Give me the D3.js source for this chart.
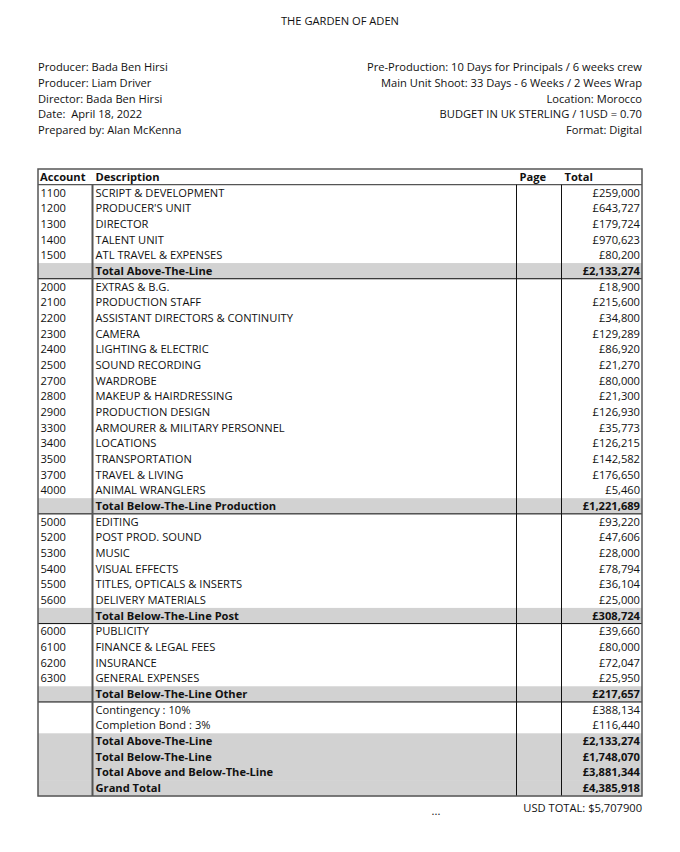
<!DOCTYPE html>
<html><head><meta charset="utf-8">
<script src="https://cdn.jsdelivr.net/npm/d3@7"></script>
<style>
html,body{margin:0;padding:0;background:#fff;}
svg{display:block;font-family:"Open Sans","Noto Sans",sans-serif;}
text{white-space:pre;}
</style></head>
<body><svg id="chart" width="680" height="852"></svg>
<script>
// ---------- data ----------
const title = "THE GARDEN OF ADEN";
const leftInfo = ["Producer: Bada Ben Hirsi","Producer: Liam Driver","Director: Bada Ben Hirsi","Date:  April 18, 2022","Prepared by: Alan McKenna"];
const rightInfo = ["Pre-Production: 10 Days for Principals / 6 weeks crew","Main Unit Shoot: 33 Days - 6 Weeks / 2 Wees Wrap","Location: Morocco","BUDGET IN UK STERLING / 1USD = 0.70","Format: Digital"];
const headers = ["Account","Description","Page","Total"];
const accounts = ["1100","1200","1300","1400","1500","",
  "2000","2100","2200","2300","2400","2500","2700","2800","2900","3300","3400","3500","3700","4000","",
  "5000","5200","5300","5400","5500","5600","",
  "6000","6100","6200","6300","",
  "","","","","",""];
const descriptions = ["SCRIPT & DEVELOPMENT","PRODUCER'S UNIT","DIRECTOR","TALENT UNIT","ATL TRAVEL & EXPENSES","Total Above-The-Line",
  "EXTRAS & B.G.","PRODUCTION STAFF","ASSISTANT DIRECTORS & CONTINUITY","CAMERA","LIGHTING & ELECTRIC","SOUND RECORDING","WARDROBE","MAKEUP & HAIRDRESSING","PRODUCTION DESIGN","ARMOURER & MILITARY PERSONNEL","LOCATIONS","TRANSPORTATION","TRAVEL & LIVING","ANIMAL WRANGLERS","Total Below-The-Line Production",
  "EDITING","POST PROD. SOUND","MUSIC","VISUAL EFFECTS","TITLES, OPTICALS & INSERTS","DELIVERY MATERIALS","Total Below-The-Line Post",
  "PUBLICITY","FINANCE & LEGAL FEES","INSURANCE","GENERAL EXPENSES","Total Below-The-Line Other",
  "Contingency : 10%","Completion Bond : 3%","Total Above-The-Line","Total Below-The-Line","Total Above and Below-The-Line","Grand Total"];
const totals = [259000,643727,179724,970623,80200,2133274,
  18900,215600,34800,129289,86920,21270,80000,21300,126930,35773,126215,142582,176650,5460,1221689,
  93220,47606,28000,78794,36104,25000,308724,
  39660,80000,72047,25950,217657,
  388134,116440,2133274,1748070,3881344,4385918];
// row kinds: i = item, t = section total, p = plain extra, g = grand total block
const kinds = ["i","i","i","i","i","t",
  "i","i","i","i","i","i","i","i","i","i","i","i","i","i","t",
  "i","i","i","i","i","i","t",
  "i","i","i","i","t",
  "p","p","g","g","g","g"];
const footerDots = "...";
const usdTotal = "USD TOTAL: $5,707900";

// ---------- layout ----------
const svg = d3.select("#chart");
const L = 38, R = 642, tableTop = 169, tableBottom = 796;
const colX = d3.scaleOrdinal().domain(headers).range([38, 92.5, 516.5, 561.5]);
const nRows = descriptions.length + 1;
const y = d3.scaleBand().domain(d3.range(nRows)).range([tableTop, tableBottom]).padding(0);
const fmt = v => "£" + d3.format(",")(v);
const fs = 11.15;

svg.append("text").attr("x", 340).attr("y", 25).attr("text-anchor","middle")
  .attr("font-size", fs).attr("fill","#111").text(title);

const infoY = d3.scaleLinear().domain([0,1]).range([71, 86.8]);
svg.append("g").selectAll("text").data(leftInfo).join("text")
  .attr("x", L).attr("y",(d,i)=>infoY(i)).attr("font-size",fs).attr("fill","#111").text(d=>d);
svg.append("g").selectAll("text").data(rightInfo).join("text")
  .attr("x", R).attr("y",(d,i)=>infoY(i)).attr("text-anchor","end").attr("font-size",fs).attr("fill","#111").text(d=>d);

// row backgrounds
const rows = descriptions.map((d,i)=>({acc:accounts[i], desc:d, total:totals[i], kind:kinds[i], idx:i+1}));
svg.append("g").selectAll("rect").data(rows.filter(r=>r.kind==="t"||r.kind==="g")).join("rect")
  .attr("x", L).attr("width", R-L).attr("y", r=>y(r.idx)).attr("height", y.bandwidth()+0.5)
  .attr("fill","#d2d2d2");

// horizontal lines: header bottom + below each section total
const hl = svg.append("g");
hl.append("line").attr("x1",L).attr("x2",R).attr("y1",y(1)).attr("y2",y(1)).attr("stroke","#555").attr("stroke-width",1.2);
rows.filter(r=>r.kind==="t").forEach(r=>{
  const yy = y(r.idx)+y.bandwidth();
  hl.append("line").attr("x1",L).attr("x2",R).attr("y1",yy).attr("y2",yy).attr("stroke","#111").attr("stroke-width",1);
});

// vertical lines
const vl = svg.append("g");
vl.append("line").attr("x1",colX("Description")).attr("x2",colX("Description")).attr("y1",y(1)).attr("y2",tableBottom)
  .attr("stroke","#555").attr("stroke-width",2);
["Page","Total"].forEach(h=>{
  vl.append("line").attr("x1",colX(h)).attr("x2",colX(h)).attr("y1",y(1)).attr("y2",tableBottom)
    .attr("stroke","#111").attr("stroke-width",1);
});
// outer border
svg.append("rect").attr("x",L).attr("y",tableTop).attr("width",R-L).attr("height",tableBottom-tableTop)
  .attr("fill","none").attr("stroke","#555").attr("stroke-width",1.5);

// header
const ty = i => y(i) + y.bandwidth()/2 + 4;
svg.append("g").selectAll("text").data(headers).join("text")
  .attr("x", h=>colX(h)+ (h==="Account"?2:3)).attr("y", ty(0))
  .attr("font-size",fs).attr("font-weight","bold").attr("fill","#111").text(h=>h);

// body text
const body = svg.append("g");
body.selectAll("text.acc").data(rows).join("text").attr("class","acc")
  .attr("x", colX("Account")+2.5).attr("y", r=>ty(r.idx)).attr("font-size",fs).attr("fill","#111").text(r=>r.acc);
body.selectAll("text.desc").data(rows).join("text").attr("class","desc")
  .attr("x", colX("Description")+3).attr("y", r=>ty(r.idx)).attr("font-size",fs)
  .attr("font-weight", r=>(r.kind==="t"||r.kind==="g")?"bold":"normal").attr("fill","#111").text(r=>r.desc);
body.selectAll("text.tot").data(rows).join("text").attr("class","tot")
  .attr("x", R-2).attr("y", r=>ty(r.idx)).attr("text-anchor","end").attr("font-size",fs)
  .attr("font-weight", r=>(r.kind==="t"||r.kind==="g")?"bold":"normal").attr("fill","#111").text(r=>fmt(r.total));

// footer
svg.append("text").attr("x",436).attr("y",815).attr("text-anchor","middle").attr("font-size",fs).attr("fill","#111").text(footerDots);
svg.append("text").attr("x",R).attr("y",812).attr("text-anchor","end").attr("font-size",fs).attr("fill","#111").text(usdTotal);
</script></body></html>
